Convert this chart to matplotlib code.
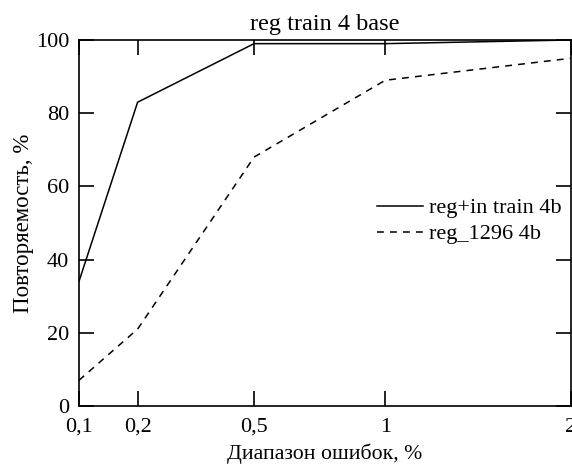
#!/usr/bin/env python3
import numpy as np
import matplotlib
matplotlib.use("Agg")
import matplotlib.pyplot as plt

# error range, % (x axis uses a sqrt scale)
err_range = [0.1, 0.2, 0.5, 1, 2]
err_labels = ["0,1", "0,2", "0,5", "1", "2"]
# repeatability, %
reg_in_train = [34, 83, 99, 99, 100]
reg_1296 = [7, 21, 68, 89, 95]

plt.rcParams['font.family'] = ['Liberation Serif', 'DejaVu Serif']
plt.rcParams['font.size'] = 16

fig = plt.figure(figsize=(5.72, 4.65), dpi=100)
ax = fig.add_axes([0.138, 0.127, 0.86, 0.787])

ax.plot(err_range, reg_in_train, color="black", lw=1.1, label="reg+in train 4b")
ax.plot(err_range, reg_1296, color="black", lw=1.1, ls=(0, (4.5, 4)), label="reg_1296 4b")

ax.set_xscale('function', functions=(np.sqrt, np.square))
ax.set_xlim(0.1, 2)
ax.set_ylim(0, 100)
ax.set_xticks(err_range)
ax.set_xticklabels(err_labels)
ax.set_yticks([0, 20, 40, 60, 80, 100])
ax.minorticks_off()
ax.tick_params(direction="in", length=11, width=1.2, top=True, right=True, labelsize=16)
ax.tick_params(axis="y", pad=7)
ax.tick_params(axis="x", pad=8.5)
for s in ax.spines.values():
    s.set_linewidth(1.2)

ax.set_title("reg train 4 base", fontsize=17.5, pad=7)
ax.set_xlabel("Диапазон ошибок, %", fontsize=15.7, labelpad=5)
ax.set_ylabel("Повторяемость, %", fontsize=16.5, labelpad=1)

ax.legend(loc="center right", bbox_to_anchor=(0.982, 0.505), frameon=False, fontsize=16,
          handlelength=2.1, handletextpad=0.27, labelspacing=0.25, borderpad=0,
          borderaxespad=0)

fig.savefig("out.png", dpi=100)
